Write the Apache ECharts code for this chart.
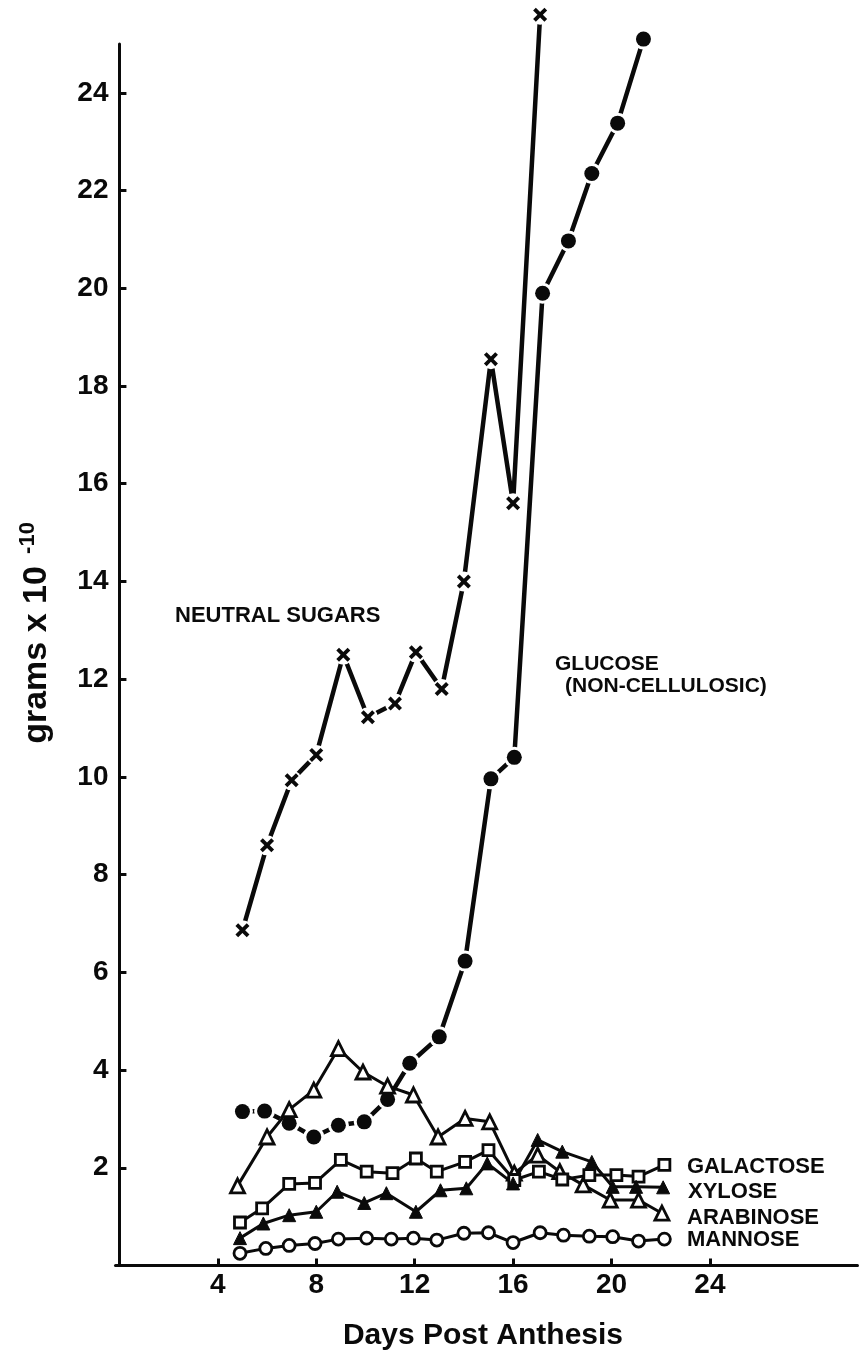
<!DOCTYPE html>
<html>
<head>
<meta charset="utf-8">
<script src="https://cdn.jsdelivr.net/npm/echarts@6/dist/echarts.min.js"></script>
<style>
  html, body { margin: 0; padding: 0; background: #fff; }
  #chart { width: 859px; height: 1357px; }
</style>
</head>
<body>
<div id="chart"></div>
<script>
// Cell-wall neutral sugar content of developing fibres, by days post anthesis
const neutralDays   = [5.0, 6.0, 7.0, 8.0, 9.1, 10.1, 11.2, 12.05, 13.1, 14.0, 15.1, 16.0, 17.1];
const neutralVals   = [6.86, 8.6, 9.93, 10.45, 12.5, 11.22, 11.5, 12.55, 11.8, 14.0, 18.55, 15.6, 25.6];

const glucoseDays   = [5.0, 5.9, 6.9, 7.9, 8.9, 9.95, 10.9, 11.8, 13.0, 14.05, 15.1, 16.05, 17.2, 18.25, 19.2, 20.25, 21.3];
const glucoseVals   = [3.15, 3.16, 2.91, 2.63, 2.87, 2.94, 3.40, 4.14, 4.68, 6.23, 9.96, 10.4, 19.9, 20.97, 22.35, 23.38, 25.1];

const arabinoseDays = [4.8, 6.0, 6.9, 7.9, 8.9, 9.9, 10.9, 11.95, 12.95, 14.05, 15.05, 16.05, 17.0, 17.9, 18.85, 19.95, 21.1, 22.05];
const arabinoseVals = [1.63, 2.63, 3.19, 3.59, 4.44, 3.96, 3.67, 3.49, 2.63, 3.01, 2.94, 1.89, 2.26, 1.92, 1.65, 1.34, 1.34, 1.07];

const galactoseDays = [4.9, 5.8, 6.9, 7.95, 9.0, 10.05, 11.1, 12.05, 12.9, 14.05, 15.0, 16.05, 17.05, 18.0, 19.1, 20.2, 21.1, 22.15];
const galactoseVals = [0.88, 1.17, 1.67, 1.69, 2.16, 1.92, 1.89, 2.19, 1.92, 2.12, 2.36, 1.75, 1.92, 1.76, 1.85, 1.85, 1.82, 2.06];

const xyloseDays    = [4.9, 5.85, 6.9, 8.0, 8.85, 9.95, 10.85, 12.05, 13.05, 14.1, 14.95, 16.0, 17.0, 18.0, 19.2, 20.05, 21.0, 22.1];
const xyloseVals    = [0.56, 0.86, 1.03, 1.10, 1.51, 1.28, 1.48, 1.10, 1.54, 1.58, 2.09, 1.68, 2.57, 2.33, 2.12, 1.61, 1.61, 1.60];

const mannoseDays   = [4.9, 5.95, 6.9, 7.95, 8.9, 10.05, 11.05, 11.95, 12.9, 14.0, 15.0, 16.0, 17.1, 18.05, 19.1, 20.05, 21.1, 22.15];
const mannoseVals   = [0.25, 0.35, 0.41, 0.45, 0.54, 0.56, 0.54, 0.56, 0.52, 0.66, 0.67, 0.47, 0.67, 0.62, 0.60, 0.59, 0.50, 0.54];

const xTickValues = [4, 8, 12, 16, 20, 24];
const yTickValues = [2, 4, 6, 8, 10, 12, 14, 16, 18, 20, 22, 24];

const INK = '#0a0a0a';
const FONT = '"Liberation Sans", Arial, sans-serif';
// plus sign, drawn rotated 45 degrees to make an "x" marker
const CROSS = 'path://M3.8,0 H6.2 V3.8 H10 V6.2 H6.2 V10 H3.8 V6.2 H0 V3.8 H3.8 Z';

const pairs = (xs, ys) => xs.map((x, i) => [x, ys[i]]);

// thick connecting line with no markers
function plainLine(xs, ys, width, z) {
  return {
    type: 'line', data: pairs(xs, ys), showSymbol: false, symbol: 'none',
    lineStyle: { color: INK, width: width }, z: z, clip: false, silent: true,
    animation: false
  };
}
// white disc under a marker so the line stops short of it
function halo(xs, ys, size, z) {
  return {
    type: 'scatter', data: pairs(xs, ys), symbol: 'circle', symbolSize: size,
    itemStyle: { color: '#fff', opacity: 1 }, z: z, clip: false, silent: true,
    animation: false
  };
}
function marks(xs, ys, symbol, size, rotate, z) {
  return {
    type: 'scatter', data: pairs(xs, ys), symbol: symbol, symbolSize: size,
    symbolRotate: rotate, itemStyle: { color: INK, opacity: 1 }, z: z, clip: false,
    silent: true, animation: false
  };
}
// minor sugars: line with open or filled markers touching it
function minorSeries(xs, ys, symbol, size, filled) {
  return {
    type: 'line', data: pairs(xs, ys), symbol: symbol, symbolSize: size, showSymbol: true,
    lineStyle: { color: INK, width: 3 },
    itemStyle: filled
      ? { color: INK, borderColor: INK, borderWidth: 1, opacity: 1 }
      : { color: '#fff', borderColor: INK, borderWidth: 2.8, opacity: 1 },
    z: 6, clip: false, silent: true, animation: false
  };
}

const labelText = (text, x, y, size) => ({
  type: 'text', x: x, y: y,
  style: { text: text, fill: INK, font: 'bold ' + size + 'px ' + FONT, textAlign: 'left', textVerticalAlign: 'middle' },
  z: 20
});

const chart = echarts.init(document.getElementById('chart'), null, { renderer: 'canvas' });

chart.setOption({
  backgroundColor: '#ffffff',
  animation: false,
  grid: { left: 115.5, right: 1.5, top: 44, bottom: 91.5, containLabel: false },
  xAxis: {
    type: 'value', min: -0.16, max: 30,
    axisLine: { show: true, lineStyle: { color: INK, width: 3 } },
    axisTick: { show: true, inside: true, length: 7, lineStyle: { color: INK, width: 3 }, customValues: xTickValues },
    axisLabel: { show: true, customValues: xTickValues, margin: 6, color: INK, fontSize: 28, fontWeight: 'bold', fontFamily: FONT },
    splitLine: { show: false }
  },
  yAxis: {
    type: 'value', min: 0, max: 25,
    axisLine: { show: true, lineStyle: { color: INK, width: 3 } },
    axisTick: { show: true, inside: true, length: 7, lineStyle: { color: INK, width: 3 }, customValues: yTickValues },
    axisLabel: { show: true, customValues: yTickValues, margin: 7, color: INK, fontSize: 28, fontWeight: 'bold', fontFamily: FONT },
    splitLine: { show: false }
  },
  series: [
    plainLine(neutralDays, neutralVals, 4.5, 2),
    plainLine(glucoseDays, glucoseVals, 4.5, 2),
    halo(neutralDays, neutralVals, 20, 3),
    halo(glucoseDays, glucoseVals, 21, 3),
    marks(neutralDays, neutralVals, CROSS, 16, 45, 4),
    marks(glucoseDays, glucoseVals, 'circle', 15, 0, 4),
    minorSeries(arabinoseDays, arabinoseVals, 'triangle', 14, false),
    minorSeries(galactoseDays, galactoseVals, 'rect', 11, false),
    minorSeries(xyloseDays, xyloseVals, 'triangle', 13, true),
    minorSeries(mannoseDays, mannoseVals, 'circle', 12, false)
  ],
  graphic: [
    labelText('NEUTRAL SUGARS', 175, 616, 22),
    labelText('GLUCOSE', 555, 664, 21),
    labelText('(NON-CELLULOSIC)', 565, 686, 21),
    labelText('GALACTOSE', 687, 1167, 22),
    labelText('XYLOSE', 688, 1192, 22),
    labelText('ARABINOSE', 687, 1218, 22),
    labelText('MANNOSE', 687, 1240, 22),
    {
      type: 'text', x: 483, y: 1336,
      style: { text: 'Days Post Anthesis', fill: INK, font: 'bold 30px ' + FONT, textAlign: 'center', textVerticalAlign: 'middle' },
      z: 20
    },
    {
      type: 'text', x: 37, y: 655, rotation: Math.PI / 2,
      style: { text: 'grams x 10', fill: INK, font: 'bold 34px ' + FONT, textAlign: 'center', textVerticalAlign: 'middle' },
      z: 20
    },
    {
      type: 'text', x: 28, y: 538, rotation: Math.PI / 2,
      style: { text: '-10', fill: INK, font: 'bold 22px ' + FONT, textAlign: 'center', textVerticalAlign: 'middle' },
      z: 20
    }
  ]
});
</script>
</body>
</html>
